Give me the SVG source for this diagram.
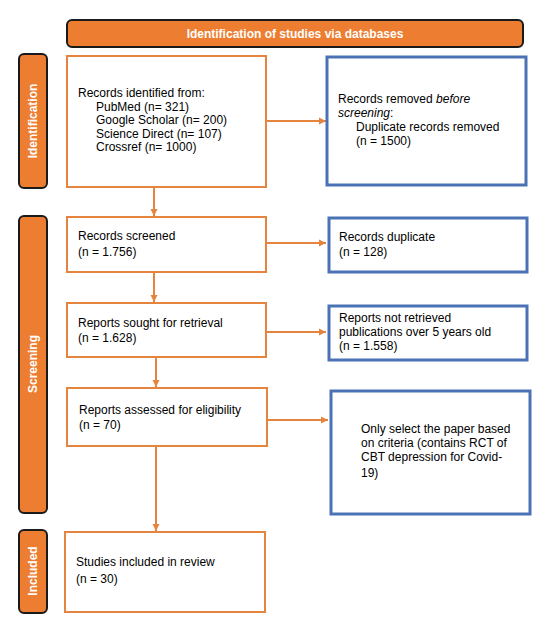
<svg xmlns="http://www.w3.org/2000/svg" width="547" height="617" viewBox="0 0 547 617">
<style>
.bg{fill:#fff}
.ob{fill:#fff;stroke:#E4843F;stroke-width:2}
.bb{fill:#fff;stroke:#4A72B5;stroke-width:3}
.lab{fill:#ED7D31;stroke:#1a1a1a;stroke-width:2}
.t{font-family:"Liberation Sans",Arial,sans-serif;font-size:12px;fill:#000}
.w{font-family:"Liberation Sans",Arial,sans-serif;font-size:12px;font-weight:bold;fill:#fff}
.c{stroke:#E4843F;stroke-width:2;fill:none}
</style>
<defs>
<marker id="ah" markerWidth="8" markerHeight="8" refX="7" refY="4" orient="auto" markerUnits="userSpaceOnUse">
<path d="M0,0.5 L7,4 L0,7.5 Z" fill="#E4843F"/>
</marker>
</defs>
<rect class="bg" x="0" y="0" width="547" height="617"/>
<g id="header">
<rect class="lab" x="67" y="20" width="456" height="27" rx="5"/>
<text class="w" x="295" y="38" text-anchor="middle">Identification of studies via databases</text>
</g>
<g id="lab-identification">
<rect class="lab" x="19" y="54" width="28" height="134" rx="5"/>
<text class="w" transform="translate(37,121) rotate(-90)" text-anchor="middle">Identification</text>
</g>
<g id="lab-screening">
<rect class="lab" x="19" y="216" width="28" height="297" rx="5"/>
<text class="w" transform="translate(37,364) rotate(-90)" text-anchor="middle">Screening</text>
</g>
<g id="lab-included">
<rect class="lab" x="19" y="530" width="28" height="83" rx="5"/>
<text class="w" transform="translate(37,571) rotate(-90)" text-anchor="middle">Included</text>
</g>
<g id="connectors">
<line class="c" x1="266" y1="121" x2="326" y2="121" marker-end="url(#ah)"/>
<line class="c" x1="154" y1="187" x2="154" y2="216" marker-end="url(#ah)"/>
<line class="c" x1="266" y1="243" x2="326" y2="243" marker-end="url(#ah)"/>
<line class="c" x1="154" y1="272" x2="154" y2="302" marker-end="url(#ah)"/>
<line class="c" x1="266" y1="332" x2="326" y2="332" marker-end="url(#ah)"/>
<line class="c" x1="156" y1="357" x2="156" y2="387" marker-end="url(#ah)"/>
<line class="c" x1="268" y1="420" x2="328" y2="420" marker-end="url(#ah)"/>
<line class="c" x1="156" y1="446" x2="156" y2="531" marker-end="url(#ah)"/>
</g>
<g id="n-identified">
<rect class="ob" x="67" y="56" width="199" height="131"/>
<text class="t" x="78" y="97">Records identified from:</text>
<text class="t" x="96" y="111">PubMed (n= 321)</text>
<text class="t" x="96" y="124">Google Scholar (n= 200)</text>
<text class="t" x="96" y="138">Science Direct (n= 107)</text>
<text class="t" x="96" y="151">Crossref (n= 1000)</text>
</g>
<g id="n-removed">
<rect class="bb" x="327" y="57" width="199" height="128"/>
<text class="t" x="338" y="103">Records removed <tspan font-style="italic">before</tspan></text>
<text class="t" x="338" y="117"><tspan font-style="italic">screening</tspan>:</text>
<text class="t" x="356" y="131">Duplicate records removed</text>
<text class="t" x="356" y="145">(n = 1500)</text>
</g>
<g id="n-screened">
<rect class="ob" x="67" y="217" width="199" height="55"/>
<text class="t" x="78" y="240">Records screened</text>
<text class="t" x="78" y="256">(n = 1.756)</text>
</g>
<g id="n-duplicate">
<rect class="bb" x="329" y="218" width="198" height="54"/>
<text class="t" x="339" y="241">Records duplicate</text>
<text class="t" x="339" y="256">(n = 128)</text>
</g>
<g id="n-sought">
<rect class="ob" x="67" y="303" width="199" height="54"/>
<text class="t" x="78" y="327">Reports sought for retrieval</text>
<text class="t" x="78" y="342">(n = 1.628)</text>
</g>
<g id="n-notretrieved">
<rect class="bb" x="329" y="306" width="198" height="54"/>
<text class="t" x="339" y="322">Reports not retrieved</text>
<text class="t" x="339" y="336">publications over 5 years old</text>
<text class="t" x="339" y="350">(n = 1.558)</text>
</g>
<g id="n-assessed">
<rect class="ob" x="67" y="388" width="200" height="58"/>
<text class="t" x="79" y="414">Reports assessed for eligibility</text>
<text class="t" x="79" y="429">(n = 70)</text>
</g>
<g id="n-criteria">
<rect class="bb" x="331" y="391" width="199" height="123"/>
<text class="t" x="361" y="433">Only select the paper based</text>
<text class="t" x="361" y="447">on criteria (contains RCT of</text>
<text class="t" x="361" y="461">CBT depression for Covid-</text>
<text class="t" x="361" y="477">19)</text>
</g>
<g id="n-included">
<rect class="ob" x="65" y="532" width="200" height="80"/>
<text class="t" x="76" y="566">Studies included in review</text>
<text class="t" x="76" y="583">(n = 30)</text>
</g>
</svg>
